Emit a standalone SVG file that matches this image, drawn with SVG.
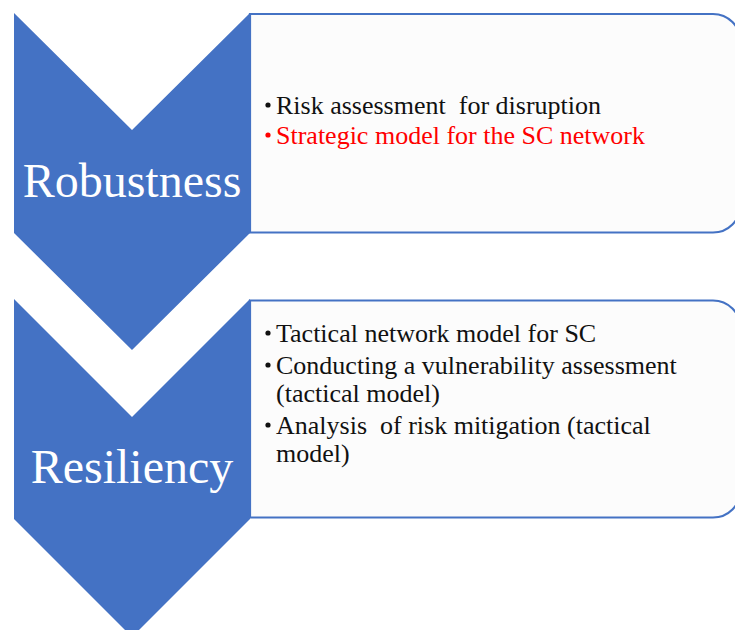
<svg xmlns="http://www.w3.org/2000/svg" width="735" height="630" viewBox="0 0 735 630">
<rect width="735" height="630" fill="#ffffff"/>
<g id="box-robustness">
<path d="M250,14 H713 A27.5,27.5 0 0 1 740.5,41.5 V205 A27.5,27.5 0 0 1 713,232.5 H250 Z" fill="#fcfcfc" stroke="#4472c4" stroke-width="2.2"/>
<circle cx="268" cy="105" r="2.6" fill="#111111"/>
<text x="276" y="114" style="font-family:'Liberation Serif';font-size:26px" fill="#111111" xml:space="preserve">Risk assessment  for disruption</text>
<circle cx="268" cy="135" r="2.6" fill="#ff0000"/>
<text x="276" y="144" style="font-family:'Liberation Serif';font-size:26px" fill="#ff0000">Strategic model for the SC network</text>
</g>
<g id="box-resiliency">
<path d="M250,300.5 H713 A27.5,27.5 0 0 1 740.5,328 V490 A27.5,27.5 0 0 1 713,517.5 H250 Z" fill="#fcfcfc" stroke="#4472c4" stroke-width="2.2"/>
<circle cx="268" cy="333" r="2.6" fill="#111111"/>
<text x="276" y="342" style="font-family:'Liberation Serif';font-size:26px" fill="#111111">Tactical network model for SC</text>
<circle cx="268" cy="365" r="2.6" fill="#111111"/>
<text x="276" y="374" style="font-family:'Liberation Serif';font-size:26px" fill="#111111">Conducting a vulnerability assessment</text>
<text x="276" y="401.5" style="font-family:'Liberation Serif';font-size:26px" fill="#111111">(tactical model)</text>
<circle cx="268" cy="425" r="2.6" fill="#111111"/>
<text x="276" y="434" style="font-family:'Liberation Serif';font-size:26px" fill="#111111" xml:space="preserve">Analysis  of risk mitigation (tactical</text>
<text x="276" y="461.5" style="font-family:'Liberation Serif';font-size:26px" fill="#111111">model)</text>
</g>
<g id="chevron-robustness">
<polygon points="14,13 132,130 250,13 250,233 132,350 14,233" fill="#4472c4"/>
<text x="132" y="197" style="font-family:'Liberation Serif';font-size:48px" fill="#ffffff" text-anchor="middle">Robustness</text>
</g>
<g id="chevron-resiliency">
<polygon points="14,299 132,417 250,299 250,519 132,637 14,519" fill="#4472c4"/>
<text x="132" y="483" style="font-family:'Liberation Serif';font-size:48px" fill="#ffffff" text-anchor="middle">Resiliency</text>
</g>
</svg>
